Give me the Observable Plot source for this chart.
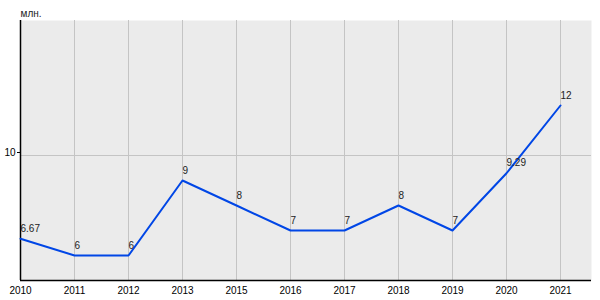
<!DOCTYPE html>
<html>
<head>
<meta charset="utf-8">
<script src="https://cdn.jsdelivr.net/npm/d3@7"></script>
<script src="https://cdn.jsdelivr.net/npm/@observablehq/plot@0.6"></script>
<style>
  html, body { margin: 0; padding: 0; background: #fff; overflow: hidden; }
  #chart svg { display: block; max-width: none; }
</style>
</head>
<body>
<div id="chart"></div>
<script>
const years = ["2010","2011","2012","2013","2015","2016","2017","2018","2019","2020","2021"];
const values = [6.67, 6, 6, 9, 8, 7, 7, 8, 7, 9.29, 12];
const labels = ["6.67","6","6","9","8","7","7","8","7","9.29","12"];
const yTicks = [10];
const unitLabel = "млн.";

const data = years.map((y, i) => ({year: y, value: values[i], label: labels[i]}));

const chart = Plot.plot({
  width: 600,
  height: 300,
  marginLeft: 20,
  marginRight: 9,
  marginTop: 20,
  marginBottom: 20,
  style: {fontFamily: "Liberation Sans, Arial, sans-serif", fontSize: "10px", color: "#000", background: "#fff", maxWidth: "none"},
  x: {type: "point", domain: years, range: [20, 560], round: false, padding: 0, label: null},
  y: {domain: [5, 15.4], label: null},
  marks: [
    Plot.frame({fill: "#ebebeb", stroke: null}),
    Plot.ruleX(years, {x: d => d, stroke: "#c4c4c4", strokeWidth: 1}),
    Plot.ruleY(yTicks, {stroke: "#c4c4c4", strokeWidth: 1}),
    Plot.ruleY([5], {stroke: "#000", strokeWidth: 1.5}),
    Plot.ruleX([years[0]], {stroke: "#000", strokeWidth: 1.5}),
    Plot.axisX({tickSize: 0, tickPadding: 6, fontSize: 10}),
    Plot.axisY({ticks: yTicks, tickSize: 3, tickPadding: 2, dy: -3, fontSize: 10}),
    Plot.line(data, {x: "year", y: "value", stroke: "#0046e6", strokeWidth: 2}),
    Plot.text(data, {x: "year", y: "value", text: "label", textAnchor: "start", dx: 0, dy: -10, fill: "#222", fontSize: 10}),
    Plot.text([unitLabel], {frameAnchor: "top-left", text: d => d, dy: -11, dx: 0, textAnchor: "start", fill: "#222", fontSize: 10})
  ]
});
document.getElementById("chart").appendChild(chart);
</script>
</body>
</html>
